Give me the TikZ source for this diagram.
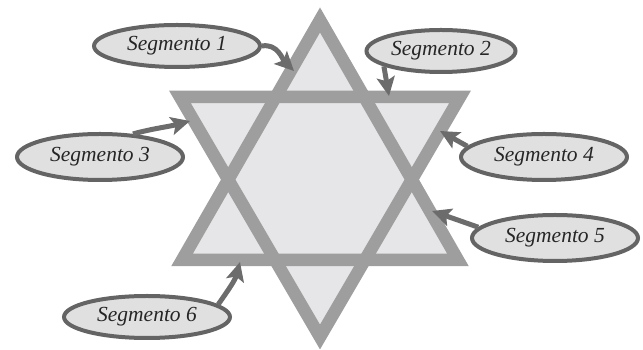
\documentclass[tikz,border=0pt]{standalone}
\usepackage{fontspec}
\setmainfont{Liberation Serif}
\usetikzlibrary{arrows.meta,shapes.geometric}
\definecolor{star}{HTML}{9E9E9E}
\definecolor{light}{HTML}{E6E6E8}
\definecolor{rim}{HTML}{646464}
\definecolor{oval}{HTML}{E0E0E0}
\definecolor{dark}{HTML}{6C6C6C}

\begin{document}
\begin{tikzpicture}[x=1pt,y=1pt,font=\itshape\fontsize{21.5}{24}\selectfont,
seg/.style={ellipse,draw=rim,line width=4pt,fill=oval,text=black!85,minimum width=166pt,minimum height=42pt,inner sep=0pt},
tri/.style={draw=star,line width=12.5pt},
a/.style={-{Stealth[length=19pt,width=18pt,inset=4pt]},draw=dark,line width=5pt}]
\useasboundingbox (0,0) rectangle (643,350);
% star
\coordinate (u1) at (320,330);\coordinate (u2) at (182,90);\coordinate (u3) at (458,90);
\coordinate (d1) at (180,253);\coordinate (d2) at (460,253);\coordinate (d3) at (320,13);
\fill[light](u1)--(u2)--(u3)--cycle;\fill[light](d1)--(d2)--(d3)--cycle;
\draw[tri](u1)--(u2)--(u3)--cycle;\draw[tri](d1)--(d2)--(d3)--cycle;
% labels
\node[seg](s1) at (177,304){Segmento 1};
\node[seg,minimum width=149pt](s2) at (441,299){Segmento 2};
\node[seg,minimum height=46pt](s3) at (100,193){Segmento 3};
\node[seg,minimum height=46pt](s4) at (544,193){Segmento 4};
\node[seg,minimum height=46pt](s5) at (555,112){Segmento 5};
\node[seg](s6) at (147,33){Segmento 6};
% arrow tips
\coordinate (t1) at (294,279);\coordinate (t2) at (389,254);\coordinate (t3) at (190,229);
\coordinate (t4) at (440,219);\coordinate (t5) at (432,139);\coordinate (t6) at (240,88);
\draw[a](s1.east) to[out=10,in=135] (t1);
\draw[a](s2.195)--(t2);
\draw[a](s3.35) to[out=15,in=195] (t3);
\draw[a](s4.172)--(t4);
\draw[a](s5.172)--(t5);
\draw[a](s6.10) to[out=55,in=-105] (t6);
\end{tikzpicture}
\end{document}
